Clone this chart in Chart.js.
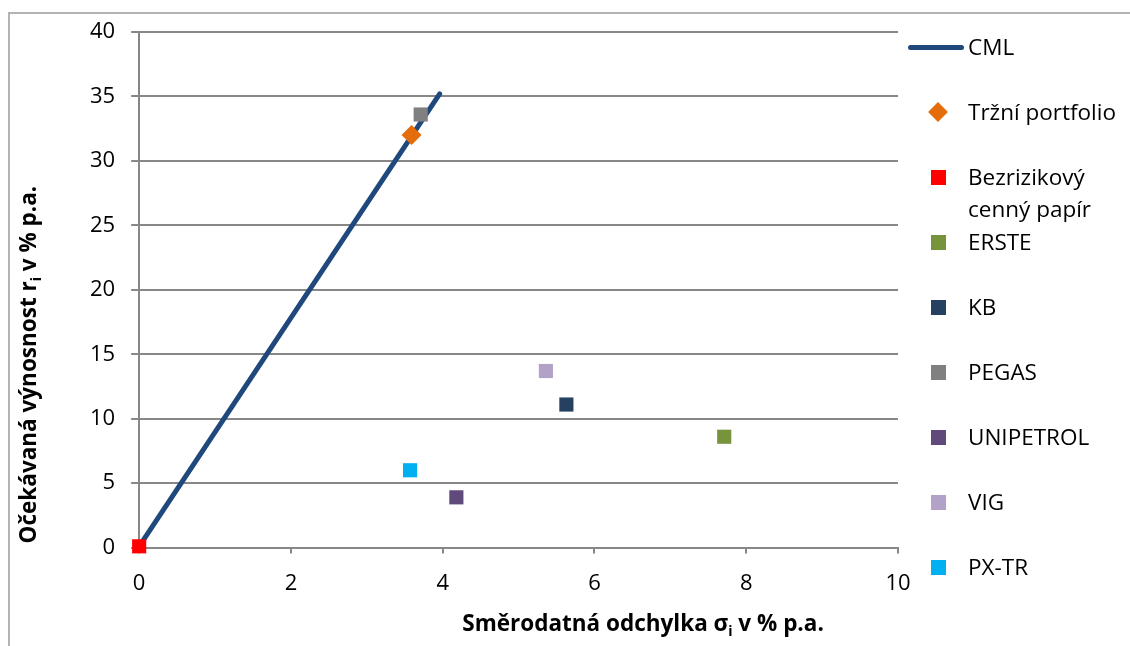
<!DOCTYPE html>
<html>
<head>
<meta charset="utf-8">
<script src="https://cdn.jsdelivr.net/npm/chart.js@4.4.1/dist/chart.umd.min.js"></script>
<style>
  html, body { margin: 0; padding: 0; background: #fff; }
  #wrap { position: relative; width: 1130px; height: 646px; overflow: hidden; }
  #frame { position: absolute; left: 8px; top: 12px; width: 1140px; height: 660px;
           border-left: 2px solid #b3b3b3; border-top: 2px solid #b3b3b3; }
  #chart { position: absolute; left: 0; top: 0; }
  #legend { position: absolute; left: 0; top: 0; font-family: "Open Sans", sans-serif;
            font-size: 22.5px; color: #000; }
  .item { position: absolute; left: 908px; width: 222px; display: flex; align-items: flex-start; }
  .mark { width: 60px; height: 24px; position: relative; flex: none; }
  .txt { white-space: pre-line; line-height: 32px; margin-top: -4px; }
</style>
</head>
<body>
<div id="wrap">
  <div id="frame"></div>
  <canvas id="chart" width="1130" height="646"></canvas>
  <div id="legend"></div>
</div>
<script>
// Capital market line endpoints
const cmlSigma = [0, 3.96];
const cmlReturn = [0.1, 35.2];

// Market portfolio and risk-free asset
const marketSigma = [3.59];
const marketReturn = [32.0];
const riskFreeSigma = [0];
const riskFreeReturn = [0.1];

// Individual stocks
const assetNames = ["ERSTE", "KB", "PEGAS", "UNIPETROL", "VIG", "PX-TR"];
const assetSigma = [7.71, 5.63, 3.71, 4.18, 5.36, 3.57];
const assetReturn = [8.6, 11.1, 33.6, 3.9, 13.7, 6.0];
const assetColors = ["#77933C", "#254061", "#808080", "#604A7B", "#B3A2C7", "#00B0F0"];

const xTicks = [0, 2, 4, 6, 8, 10];
const yTicks = [0, 5, 10, 15, 20, 25, 30, 35, 40];

// axis titles: [text, subscript, text]
const xTitle = ["Směrodatná odchylka σ", "i", " v % p.a."];
const yTitle = ["Očekávaná výnosnost r", "i", " v % p.a."];

const FONT = "'Open Sans', sans-serif";
const toPoints = (xs, ys) => xs.map((x, i) => ({ x, y: ys[i] }));

const datasets = [
  {
    label: "CML",
    data: toPoints(cmlSigma, cmlReturn),
    showLine: true,
    borderColor: "#1F497D",
    borderWidth: 5,
    borderCapStyle: "round",
    pointRadius: 0,
    clip: false,
    order: 10,
  },
  {
    label: "Tržní portfolio",
    data: toPoints(marketSigma, marketReturn),
    pointStyle: "rectRot",
    pointRadius: 10,
    backgroundColor: "#E46C0A",
    borderColor: "#E46C0A",
    borderWidth: 0,
    clip: false,
    order: 1,
  },
  {
    label: "Bezrizikový\ncenný papír",
    data: toPoints(riskFreeSigma, riskFreeReturn),
    pointStyle: "rect",
    pointRadius: 10,
    backgroundColor: "#FF0000",
    borderColor: "#FF0000",
    borderWidth: 0,
    clip: false,
    order: 1,
  },
];

assetNames.forEach((name, i) => {
  datasets.push({
    label: name,
    data: [{ x: assetSigma[i], y: assetReturn[i] }],
    pointStyle: "rect",
    pointRadius: 10,
    backgroundColor: assetColors[i],
    borderColor: assetColors[i],
    borderWidth: 0,
    clip: false,
    order: 2,
  });
});

// draws a title with a subscript part, centred on (cx, cy)
function drawSubTitle(ctx, parts, cx, cy, rot) {
  const size = 22.5;
  const fonts = [`bold ${size}px ${FONT}`, `bold ${size * 0.62}px ${FONT}`, `bold ${size}px ${FONT}`];
  const shifts = [0, size * 0.32, 0];
  ctx.save();
  ctx.translate(cx, cy);
  ctx.rotate(rot);
  ctx.fillStyle = "#000";
  ctx.textBaseline = "middle";
  ctx.textAlign = "left";
  const widths = parts.map((p, i) => { ctx.font = fonts[i]; return ctx.measureText(p).width; });
  let x = -widths.reduce((a, b) => a + b, 0) / 2;
  parts.forEach((p, i) => {
    ctx.font = fonts[i];
    ctx.fillText(p, x, shifts[i]);
    x += widths[i];
  });
  ctx.restore();
}

const axisTitles = {
  id: "axisTitles",
  afterDraw(chart) {
    const { left, right, top, bottom } = chart.chartArea;
    drawSubTitle(chart.ctx, xTitle, left + (right - left) * 0.664, chart.height - 21, 0);
    drawSubTitle(chart.ctx, yTitle, 30, top + (bottom - top) * 0.645, -Math.PI / 2);
  },
};

const tickFont = { family: FONT, size: 22 };

const chart = new Chart(document.getElementById("chart"), {
  type: "scatter",
  data: { datasets },
  plugins: [axisTitles],
  options: {
    responsive: false,
    animation: false,
    layout: { padding: { left: 74, top: 32, right: 232, bottom: 32 } },
    plugins: {
      legend: { display: false },
      tooltip: { enabled: false },
    },
    scales: {
      x: {
        type: "linear",
        min: 0,
        max: 10,
        afterBuildTicks: (axis) => { axis.ticks = xTicks.map((v) => ({ value: v })); },
        grid: { display: true, drawOnChartArea: false, drawTicks: true, tickLength: 6, color: "#878787", lineWidth: 2 },
        border: { color: "#878787", width: 2 },
        ticks: { font: tickFont, color: "#000", padding: 17, maxRotation: 0 },
      },
      y: {
        type: "linear",
        min: 0,
        max: 40,
        afterBuildTicks: (axis) => { axis.ticks = yTicks.map((v) => ({ value: v })); },
        grid: { color: "#878787", lineWidth: 2, drawTicks: true, tickLength: 8 },
        border: { color: "#878787", width: 2 },
        ticks: { font: tickFont, color: "#000", padding: 16 },
      },
    },
  },
});

// HTML legend built from the datasets
const legendEl = document.getElementById("legend");
chart.data.datasets.forEach((ds, i) => {
  const item = document.createElement("div");
  item.className = "item";
  item.style.top = (47 + 65 * i - 12) + "px";
  const mark = document.createElement("div");
  mark.className = "mark";
  const m = document.createElement("div");
  if (ds.pointRadius === 0) {
    m.style.cssText = `position:absolute;left:0;top:10px;width:56px;height:5px;border-radius:3px;background:${ds.borderColor}`;
  } else if (ds.pointStyle === "rectRot") {
    m.style.cssText = `position:absolute;left:23px;top:5px;width:14px;height:14px;transform:rotate(45deg);background:${ds.backgroundColor}`;
  } else {
    m.style.cssText = `position:absolute;left:23px;top:5px;width:15px;height:15px;background:${ds.backgroundColor}`;
  }
  mark.appendChild(m);
  const txt = document.createElement("div");
  txt.className = "txt";
  txt.textContent = ds.label;
  item.appendChild(mark);
  item.appendChild(txt);
  legendEl.appendChild(item);
});
</script>
</body>
</html>
